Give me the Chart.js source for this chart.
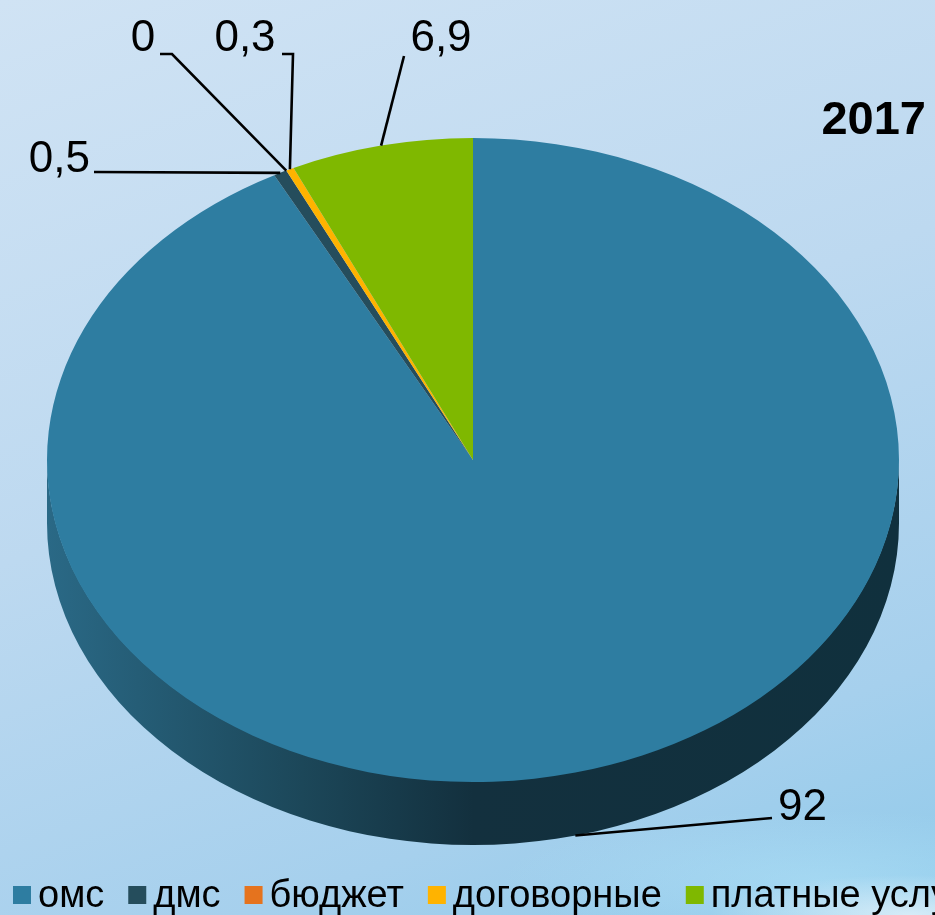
<!DOCTYPE html>
<html>
<head>
<meta charset="utf-8">
<script src="https://cdn.jsdelivr.net/npm/chart.js@4.4.0/dist/chart.umd.min.js"></script>
<style>
    html, body { margin: 0; padding: 0; }
    body {
        width: 935px;
        height: 915px;
        overflow: hidden;
        background:
            radial-gradient(ellipse 200px 40px at 910px 915px, rgba(255,255,255,0.6), rgba(255,255,255,0) 100%),
            radial-gradient(ellipse 320px 70px at 820px 880px, rgba(180,230,250,0.45), rgba(180,230,250,0) 100%),
            linear-gradient(160deg, #d0e3f4 0%, #bdd9f0 45%, #a6d0ed 80%, #90caea 100%);
    }
    #chart-wrapper { position: relative; width: 935px; height: 915px; }
</style>
</head>
<body>
<div id="chart-wrapper"><canvas id="pieChart"></canvas></div>
<script>
// Data
const categories = ['омс', 'дмс', 'бюджет', 'договорные', 'платные услуги'];
const shares = [92, 0.5, 0, 0.3, 6.9];
const valueLabels = ['92', '0,5', '0', '0,3', '6,9'];
const sliceColors = ['#2e7da1', '#254d5c', '#e5731e', '#ffb300', '#7fb800'];
const yearTitle = '2017';

// where each data label sits and where its leader line bends
const labelLayout = [
    { x: 778, y: 820, align: 'left',   bend: [[772, 818]] },
    { x: 90,  y: 172, align: 'right',  bend: [[94, 172]] },
    { x: 143, y: 51,  align: 'center', bend: [[172, 54], [160, 54]] },
    { x: 245, y: 51,  align: 'center', bend: [[293, 54], [282, 54]] },
    { x: 441, y: 51,  align: 'center', bend: [[404, 56]] }
];

const tilt = 322 / 426;   // vertical squash of the pie top
const depth = 63;         // thickness of the pie wall
const fontFamily = '"Liberation Sans", Arial, sans-serif';

// Side wall + squashed top face
const pie3d = {
    id: 'pie3d',
    beforeDatasetsDraw(chart) {
        const ctx = chart.ctx;
        const arcs = chart.getDatasetMeta(0).data;
        const { x, y, outerRadius } = arcs[0];
        const r = outerRadius;

        const wallGrad = ctx.createLinearGradient(x - r, 0, x + r, 0);
        wallGrad.addColorStop(0, '#2a6986');
        wallGrad.addColorStop(0.3, '#1c4759');
        wallGrad.addColorStop(0.5, '#13303e');
        wallGrad.addColorStop(1, '#10303d');

        ctx.save();
        arcs.forEach((arc, i) => {
            // only the front half of the wall is visible
            const a0 = Math.max(arc.startAngle, 0);
            const a1 = Math.min(arc.endAngle, Math.PI);
            if (a1 <= a0) return;
            ctx.beginPath();
            ctx.ellipse(x, y - 1, r, r * tilt, 0, a0, a1, false);
            ctx.ellipse(x, y + depth, r, r * tilt, 0, a1, a0, true);
            ctx.closePath();
            ctx.fillStyle = i === 0 ? wallGrad : '#1a1a1a';
            ctx.fill();
        });
        ctx.restore();

        // squash everything the pie controller draws next
        ctx.save();
        ctx.translate(0, y);
        ctx.scale(1, tilt);
        ctx.translate(0, -y);
    },
    afterDatasetsDraw(chart) {
        chart.ctx.restore();
    }
};

// Data labels with leader lines, title and legend
const decorations = {
    id: 'decorations',
    afterDraw(chart) {
        const ctx = chart.ctx;
        const arcs = chart.getDatasetMeta(0).data;

        ctx.save();
        ctx.strokeStyle = '#000';
        ctx.lineWidth = 2.6;
        ctx.fillStyle = '#000';
        ctx.font = '44px ' + fontFamily;
        ctx.textBaseline = 'alphabetic';

        arcs.forEach((arc, i) => {
            const mid = (arc.startAngle + arc.endAngle) / 2;
            const r = arc.outerRadius;
            let sx = arc.x + r * Math.cos(mid);
            let sy = arc.y + r * tilt * Math.sin(mid);
            if (Math.sin(mid) > 0.5) sy += depth;
            const lay = labelLayout[i];

            ctx.beginPath();
            ctx.moveTo(sx, sy);
            lay.bend.forEach(p => ctx.lineTo(p[0], p[1]));
            ctx.stroke();

            ctx.textAlign = lay.align;
            ctx.fillText(valueLabels[i], lay.x, lay.y);
        });

        // Title
        ctx.font = 'bold 47px ' + fontFamily;
        ctx.textAlign = 'right';
        ctx.fillText(yearTitle, 926, 134);

        // Legend
        ctx.font = '38px ' + fontFamily;
        ctx.textAlign = 'left';
        let lx = 13;
        categories.forEach((name, i) => {
            ctx.fillStyle = sliceColors[i];
            ctx.fillRect(lx, 886, 18, 18);
            ctx.fillStyle = '#000';
            ctx.fillText(name, lx + 25, 907);
            lx += 25 + ctx.measureText(name).width + 24;
        });
        ctx.restore();
    }
};

const ctx = document.getElementById('pieChart').getContext('2d');
const pieChart = new Chart(ctx, {
    type: 'pie',
    data: {
        labels: categories,
        datasets: [{
            data: shares,
            backgroundColor: sliceColors,
            borderWidth: 0,
            clip: false
        }]
    },
    options: {
        responsive: true,
        maintainAspectRatio: false,
        animation: false,
        events: [],
        layout: { padding: { left: 47, right: 36, top: 34, bottom: 29 } },
        plugins: {
            legend: { display: false },
            tooltip: { enabled: false }
        }
    },
    plugins: [pie3d, decorations]
});
</script>
</body>
</html>
